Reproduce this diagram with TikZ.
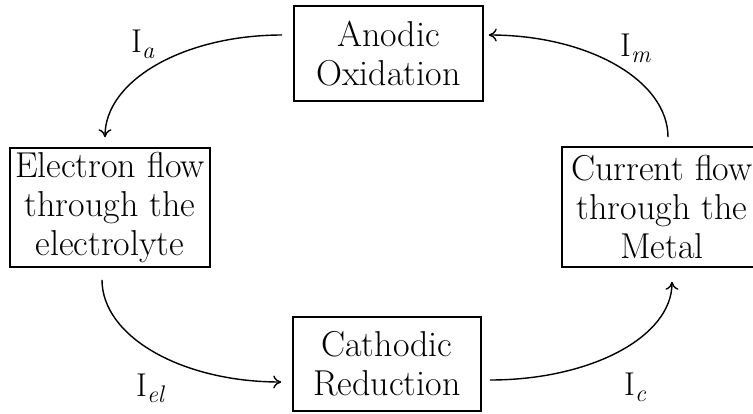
\documentclass[tikz,border=0pt]{standalone}
\usetikzlibrary{arrows.meta}
\newcommand{\Isub}[1]{I\raisebox{-0.2em}{\fontsize{24}{24}\selectfont\itshape #1}}
\begin{document}
\begin{tikzpicture}[x=1pt,y=-1pt,
  box/.style={draw, line width=1.6pt, inner sep=0pt, align=center,
    font=\fontsize{36}{39}\selectfont},
  arr/.style={line width=1.4pt, -{To[length=8pt,width=13pt]}},
  lab/.style={anchor=base west, inner sep=0pt, font=\fontsize{33}{36}\selectfont}]
\useasboundingbox (0,0) rectangle (753,413);
\node[box, minimum width=189pt, minimum height=95pt] (anodic) at (388.5,53.5) {Anodic\\Oxidation};
\node[box, minimum width=188pt, minimum height=94pt] (cathodic) at (387,364) {Cathodic\\Reduction};
\node[box, minimum width=200pt, minimum height=119pt] (electron) at (110,207.5) {Electron flow\\through the\\electrolyte};
\node[box, minimum width=200pt, minimum height=120pt] (current) at (662,207) {Current flow\\through the\\Metal};

\draw[arr] ([xshift=-11pt,yshift=18.5pt]anodic.west) .. controls +(-98pt,0pt) and +(0pt,57pt) .. ([xshift=-5pt,yshift=10pt]electron.north);
\draw[arr] ([xshift=-8pt,yshift=-12pt]electron.south) .. controls +(0pt,-57pt) and +(-99pt,0pt) .. ([xshift=-11pt,yshift=-18pt]cathodic.west);
\draw[arr] ([xshift=8pt,yshift=-16pt]cathodic.east) .. controls +(101pt,0pt) and +(0pt,-55pt) .. ([xshift=10pt,yshift=-14pt]current.south);
\draw[arr] ([xshift=6pt,yshift=9pt]current.north) .. controls +(0pt,57pt) and +(99pt,0pt) .. ([xshift=5pt,yshift=18.5pt]anodic.east);

\node[lab] (ia) at (131,52) {\Isub{a}};
\node[lab] (im) at (620,56) {\Isub{m}};
\node[lab] (iel) at (136,396) {\Isub{el}};
\node[lab] (ic) at (624,395) {\Isub{c}};
\end{tikzpicture}
\end{document}
